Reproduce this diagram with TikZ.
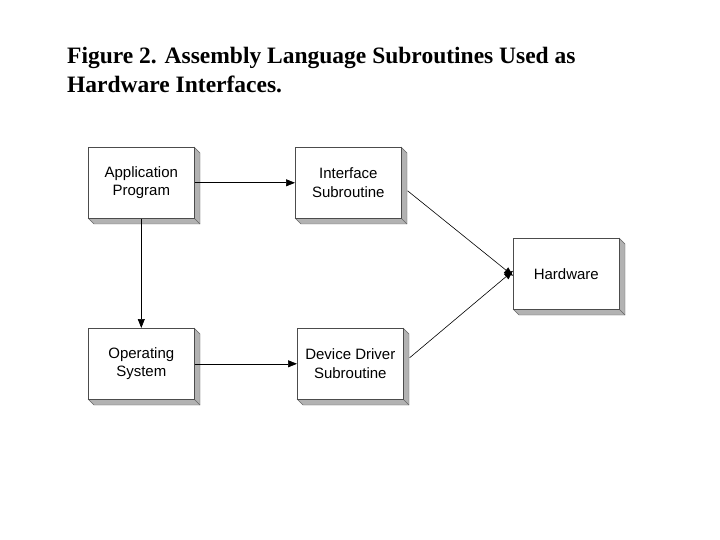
\documentclass[tikz,border=0pt]{standalone}
\usepackage{fontspec}
\setmainfont{Liberation Serif}
\newfontfamily\arialf{Liberation Sans}
\usetikzlibrary{arrows.meta}
\tikzset{x=1pt,y=-1pt,
 box/.style={draw=black!70,line width=0.6pt,fill=white,minimum width=106pt,minimum height=71pt,align=center,font=\arialf\fontsize{15}{18.5}\selectfont,inner sep=0pt},
 conn/.style={-{Triangle[length=9pt,width=7pt]},line width=0.6pt}}
\newcommand{\mybox}[4]{%
 \fill[black!30] (#1+106,#2) -- (#1+112,#2+6) -- (#1+112,#2+77) -- (#1+6,#2+77) -- (#1,#2+71) -- (#1+106,#2+71) -- cycle;
 \draw[black!60,line width=0.4pt] (#1+106,#2) -- (#1+112,#2+6) -- (#1+112,#2+77) -- (#1+6,#2+77) -- (#1,#2+71);
 \draw[black!60,line width=0.4pt] (#1+106,#2+71) -- (#1+112,#2+77);
 \node[box,anchor=north west] (#3) at (#1,#2) {#4};}
\begin{document}
\begin{tikzpicture}
\useasboundingbox[fill=white] (0,0) rectangle (720,540);
\node[anchor=north west,align=left,font=\bfseries\fontsize{23.5}{29}\selectfont,inner sep=0pt] (title) at (67,47) {Figure 2. Assembly Language Subroutines Used as\\Hardware Interfaces.};
\mybox{88}{147}{app}{Application\\Program}
\mybox{295}{147}{intf}{Interface\\Subroutine}
\mybox{88}{328}{os}{Operating\\System}
\mybox{297}{328}{dd}{Device Driver\\Subroutine}
\mybox{513}{238}{hw}{Hardware}
\draw[conn] (app.east) -- (intf.west);
\draw[conn] (app.south) -- (os.north);
\draw[conn] (os.east) -- (dd.west);
\draw[conn] ([xshift=6pt,yshift=-8pt]intf.east) -- ([yshift=-2pt]hw.west);
\draw[conn] ([xshift=6pt,yshift=6pt]dd.east) -- ([yshift=3pt]hw.west);
\end{tikzpicture}
\end{document}
